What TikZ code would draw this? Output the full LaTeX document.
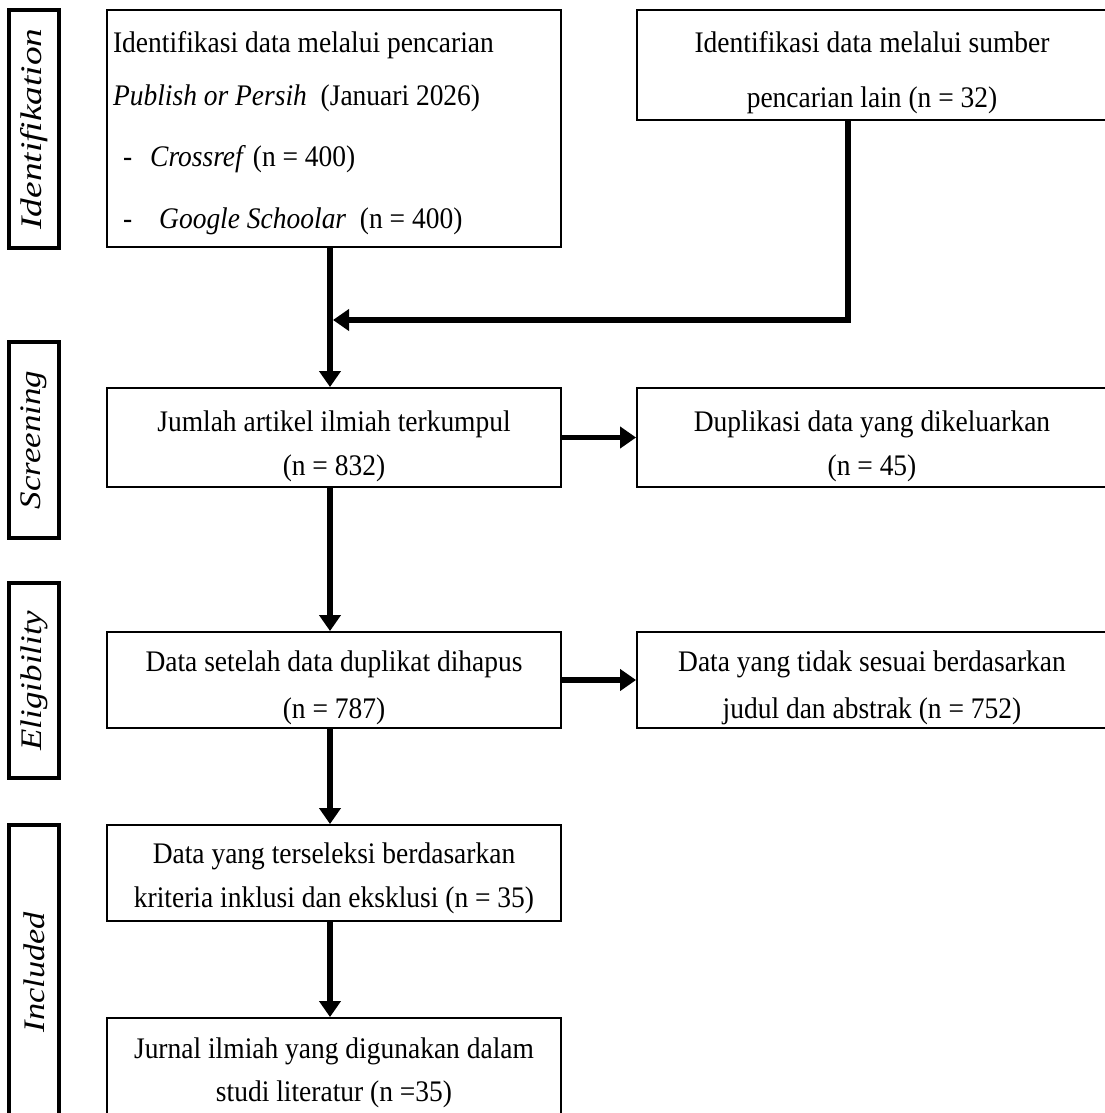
\documentclass[tikz,border=0pt]{standalone}
\usepackage{fontspec}
\setmainfont{Liberation Serif}[FakeStretch=0.92]
\newfontfamily\stagefont{Liberation Serif}
\usepackage{graphicx}
\usetikzlibrary{arrows.meta}
\newcommand{\topstrut}[1][22pt]{\rule{0pt}{#1}}

\begin{document}
\begin{tikzpicture}[x=0.02cm,y=-0.02cm,
    box/.style={draw, line width=1.1pt, inner sep=0pt, align=center,
      font=\fontsize{17}{24.8}\selectfont},
    stage/.style={draw, line width=2.3pt, inner sep=0pt, minimum width=1cm,
      rotate=90, font=\fontsize{17}{20}\stagefont\itshape},
    flow/.style={line width=3pt, -{Triangle[length=0.32cm,width=0.42cm]}}]
      \useasboundingbox (0,0) rectangle (1105,1113);
      \clip (0,0) rectangle (1105,1113);
      \coordinate (col) at (330,0);
      \coordinate (rcol) at (848,0);
      \coordinate (mrg) at (333,320);
      \node[stage, minimum width=4.76cm, minimum height=1cm] (idf) at (34,129) {\scalebox{1.25}[1]{Identifikation}};
      \node[stage, minimum width=3.92cm, minimum height=1cm] (scr) at (34,440) {\scalebox{1.17}[1]{Screening}};
      \node[stage, minimum width=3.9cm, minimum height=1cm] (elg) at (34,680.5) {\scalebox{1.17}[1]{Eligibility}};
      \node[stage, minimum width=5.88cm, minimum height=1cm] (inc) at (34,972) {\scalebox{1.15}[1]{Included}};
      \node[box, minimum width=9.08cm, minimum height=4.74cm, text width=8.84cm, align=flush left,
        font=\fontsize{17}{30}\selectfont] (src1) at (334,128.5)
        {\topstrut[17pt]Identifikasi data melalui pencarian\\
         \textit{Publish or Persih}\ \ (Januari 2026)\\[5pt]
         \hspace*{0.2cm}-\hspace{0.36cm}\textit{Crossref} (n = 400)\\[5pt]
         \hspace*{0.2cm}-\hspace{0.54cm}\textit{Google Schoolar}\ \ (n = 400)};
      \node[box, minimum width=9.4cm, minimum height=2.2cm,
        font=\fontsize{17}{31.5}\selectfont] (src2) at (872,65)
        {\topstrut[20.5pt]Identifikasi data melalui sumber\\pencarian lain (n = 32)};
      \node[box, minimum width=9.08cm, minimum height=1.98cm] (tot) at (334,437.5)
        {\topstrut Jumlah artikel ilmiah terkumpul\\(n = 832)};
      \node[box, minimum width=9.4cm, minimum height=1.98cm] (dup) at (872,437.5)
        {\topstrut Duplikasi data yang dikeluarkan\\(n = 45)};
      \node[box, minimum width=9.08cm, minimum height=1.92cm,
        font=\fontsize{17}{27}\selectfont] (ded) at (334,680)
        {\topstrut[21pt]Data setelah data duplikat dihapus\\(n = 787)};
      \node[box, minimum width=9.4cm, minimum height=1.92cm,
        font=\fontsize{17}{27}\selectfont] (exc) at (872,680)
        {\topstrut[21pt]Data yang tidak sesuai berdasarkan\\judul dan abstrak (n = 752)};
      \node[box, minimum width=9.08cm, minimum height=1.92cm,
        font=\fontsize{17}{25}\selectfont] (sel) at (334,873)
        {\topstrut[18pt]Data yang terseleksi berdasarkan\\kriteria inklusi dan eksklusi (n = 35)};
      \node[box, minimum width=9.08cm, minimum height=2.02cm] (fin) at (334,1068.5)
        {\topstrut[16.5pt]Jurnal ilmiah yang digunakan dalam\\studi literatur (n =35)};
      \draw[flow] (src1.south -| col) -- (tot.north -| col);
      \draw[flow] (src2.south -| rcol) |- (mrg);
      \draw[flow] (tot.east) -- (dup.west);
      \draw[flow] (ded.east) -- (exc.west);
      \draw[flow] (tot.south -| col) -- (ded.north -| col);
      \draw[flow] (ded.south -| col) -- (sel.north -| col);
      \draw[flow] (sel.south -| col) -- (fin.north -| col);
\end{tikzpicture}
\end{document}
